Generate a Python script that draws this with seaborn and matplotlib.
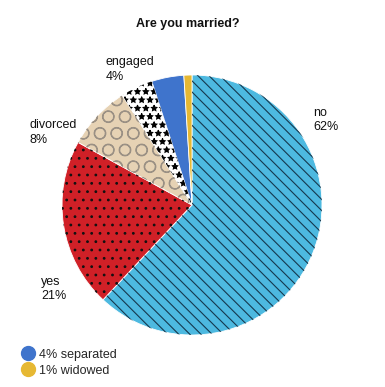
import matplotlib
matplotlib.use("Agg")
import matplotlib.pyplot as plt
import seaborn as sns
from matplotlib.lines import Line2D

sns.set_theme(style="white")
plt.rcParams["font.family"] = ["Liberation Sans", "DejaVu Sans"]
plt.rcParams["hatch.linewidth"] = 0.8

# data
categories = ["no", "yes", "divorced", "engaged", "separated", "widowed"]
values = [62, 21, 8, 4, 4, 1]
colors = ["#4DB9E0", "#D02027", "#E6D2B4", "#FFFFFF", "#3F74CC", "#E6B833"]
hatches = ["\\\\\\", "..", "O", "**", "", ""]
hatch_colors = ["#15384E", "#111111", "#9A9084", "#000000", "#3F74CC", "#E6B833"]
label_text = ["no\n62%", "yes\n21%", "divorced\n8%", "engaged\n4%"]
label_pos = [(0.93, 0.655), (-1.16, -0.645), (-1.25, 0.56), (-0.665, 1.04)]
legend_labels = ["4% separated", "1% widowed"]

W, H = 385, 387
fig = plt.figure(figsize=(W / 100, H / 100), dpi=100)
ax = fig.add_axes([0, 0, 1, 1])
cx, cy, r = 192, 205, 130

wedges, _ = ax.pie(values, colors=colors, startangle=90, counterclock=False,
                   radius=1.0, wedgeprops=dict(edgecolor="white", linewidth=0.6))
hw, _ = ax.pie(values, colors=["none"] * len(values), startangle=90, counterclock=False,
               radius=1.0, wedgeprops=dict(linewidth=0))
for w, h, hc in zip(hw, hatches, hatch_colors):
    w.set_hatch(h)
    w.set_edgecolor(hc)
    w.set_linewidth(0)
    w.set_facecolor("none")

ax.set_aspect("auto")
ax.set_xlim(-cx / r, (W - cx) / r)
ax.set_ylim(-(H - cy) / r, cy / r)
ax.axis("off")

for t, (x, y) in zip(label_text, label_pos):
    ax.text(x, y, t, ha="left", va="center", fontsize=9, color="#111111",
            linespacing=1.3)

fig.text(0.487, 1 - 24 / H, "Are you married?", ha="center", va="center",
         fontsize=9, fontweight="bold", color="#111111")

handles = [Line2D([], [], marker="o", linestyle="none", markersize=10,
                  markerfacecolor=colors[i], markeredgecolor=colors[i])
           for i in (4, 5)]
fig.legend(handles, legend_labels, loc="lower left",
           bbox_to_anchor=(18 / W, 8 / H), frameon=False, fontsize=9,
           handletextpad=0.3, labelspacing=0.3, borderaxespad=0,
           handlelength=1.2, borderpad=0.2)

fig.savefig("out.png", dpi=100)
